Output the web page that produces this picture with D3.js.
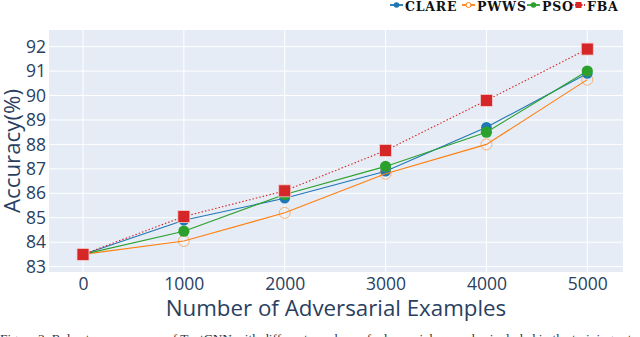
<!DOCTYPE html>
<html><head><meta charset="utf-8">
<script src="https://cdn.jsdelivr.net/npm/d3@7"></script>
<style>html,body{margin:0;padding:0;background:#fff;}svg{display:block;}</style>
</head><body>
<svg id="c" width="640" height="337"></svg>
<script>
const xValues = [0, 1000, 2000, 3000, 4000, 5000];
const clare = [83.5, 84.9, 85.8, 86.9, 88.7, 90.9];
const pwws  = [83.5, 84.05, 85.2, 86.8, 88.0, 90.65];
const pso   = [83.5, 84.45, 85.95, 87.1, 88.5, 91.0];
const fba   = [83.5, 85.05, 86.1, 87.75, 89.8, 91.9];
const seriesNames = ["CLARE", "PWWS", "PSO", "FBA"];
const xTicks = [0, 1000, 2000, 3000, 4000, 5000];
const yTicks = [83, 84, 85, 86, 87, 88, 89, 90, 91, 92];
const xTitle = "Number of Adversarial Examples";
const yTitle = "Accuracy(%)";
const caption = "Figure 3: Robustness accuracy of TextCNN with different numbers of adversarial examples included in the training set";

const svg = d3.select("#c");
const L = 49, R = 623, T = 30, B = 272;
const x = d3.scaleLinear().domain([-337, 5354]).range([L, R]);
const y = d3.scaleLinear().domain([82.78, 92.68]).range([B, T]);
const font = "'Open Sans', sans-serif";
const tc = "#2a3f5f";

svg.append("rect").attr("x", L).attr("y", T).attr("width", R - L).attr("height", B - T).attr("fill", "#e5ecf6");
const g = svg.append("g");
g.selectAll(".gx").data(xTicks).join("line")
  .attr("x1", d => x(d)).attr("x2", d => x(d)).attr("y1", T).attr("y2", B)
  .attr("stroke", "#fff").attr("stroke-width", 1);
g.selectAll(".gy").data(yTicks).join("line")
  .attr("y1", d => y(d)).attr("y2", d => y(d)).attr("x1", L).attr("x2", R)
  .attr("stroke", "#fff").attr("stroke-width", 1);

// axes
const xa = svg.append("g").attr("transform", `translate(0,${B})`)
  .call(d3.axisBottom(x).tickValues(xTicks).tickSize(0).tickPadding(6).tickFormat(d3.format("d")));
xa.select(".domain").remove();
xa.selectAll("text").attr("font-family", font).attr("font-size", 17.5).attr("fill", tc);
const ya = svg.append("g").attr("transform", `translate(${L},0)`)
  .call(d3.axisLeft(y).tickValues(yTicks).tickSize(0).tickPadding(3).tickFormat(d3.format("d")));
ya.select(".domain").remove();
ya.selectAll("text").attr("font-family", font).attr("font-size", 17.5).attr("fill", tc);

svg.append("text").attr("x", (L + R) / 2).attr("y", 315.5).attr("text-anchor", "middle")
  .attr("font-family", font).attr("font-size", 22.3).attr("fill", tc).text(xTitle);
svg.append("text").attr("transform", `translate(20,${(T + B) / 2}) rotate(-90)`).attr("text-anchor", "middle")
  .attr("font-family", font).attr("font-size", 22.3).attr("fill", tc).text(yTitle);

const colors = ["#1f77b4", "#ff7f0e", "#2ca02c", "#d62728"];
const data = [clare, pwws, pso, fba];
const line = d3.line().x((d, i) => x(xValues[i])).y(d => y(d));

function marker(sel, k, cx, cy) {
  if (k === 3) {
    sel.append("rect").attr("x", cx - 6).attr("y", cy - 6).attr("width", 12).attr("height", 12)
      .attr("fill", colors[3]).attr("stroke", "#f3d0d0").attr("stroke-width", 0.8);
  } else if (k === 1) {
    sel.append("circle").attr("cx", cx).attr("cy", cy).attr("r", 5.5)
      .attr("fill", "none").attr("stroke", colors[1]).attr("stroke-opacity", 0.55).attr("stroke-width", 1);
  } else {
    sel.append("circle").attr("cx", cx).attr("cy", cy).attr("r", k === 0 ? 5.3 : 5.6)
      .attr("fill", colors[k]);
  }
}

data.forEach((vals, k) => {
  const sg = svg.append("g");
  sg.append("path").datum(vals).attr("d", line).attr("fill", "none")
    .attr("stroke", colors[k]).attr("stroke-width", 1.1)
    .attr("stroke-dasharray", k === 3 ? "1.5,2" : null);
  vals.forEach((v, i) => marker(sg, k, x(xValues[i]), y(v)));
});

// legend
const legX = [390, 462, 527, 572];
const lg = svg.append("g");
seriesNames.forEach((n, k) => {
  const lx = legX[k], ly = 5;
  lg.append("line").attr("x1", lx).attr("x2", lx + 13).attr("y1", ly).attr("y2", ly)
    .attr("stroke", colors[k]).attr("stroke-width", 1.8).attr("stroke-dasharray", k === 3 ? "1.5,1.5" : null);
  if (k === 3) lg.append("rect").attr("x", lx + 3.5).attr("y", ly - 3).attr("width", 6).attr("height", 6).attr("fill", colors[3]);
  else if (k === 1) lg.append("circle").attr("cx", lx + 6.5).attr("cy", ly).attr("r", 2.5).attr("fill", "#fff").attr("stroke", colors[1]).attr("stroke-width", 1);
  else lg.append("circle").attr("cx", lx + 6.5).attr("cy", ly).attr("r", 2.8).attr("fill", colors[k]);
  lg.append("text").attr("x", lx + 15).attr("y", 10.5).attr("font-family", "'DejaVu Serif', serif")
    .attr("font-weight", "bold").attr("font-size", 12.5).attr("letter-spacing", 0.8)
    .attr("fill", "#111").text(n);
});

svg.append("text").attr("x", 0).attr("y", 343).attr("font-family", "'Liberation Serif', serif")
  .attr("font-size", 13.3).attr("fill", "#333").text(caption);
</script>
</body></html>
